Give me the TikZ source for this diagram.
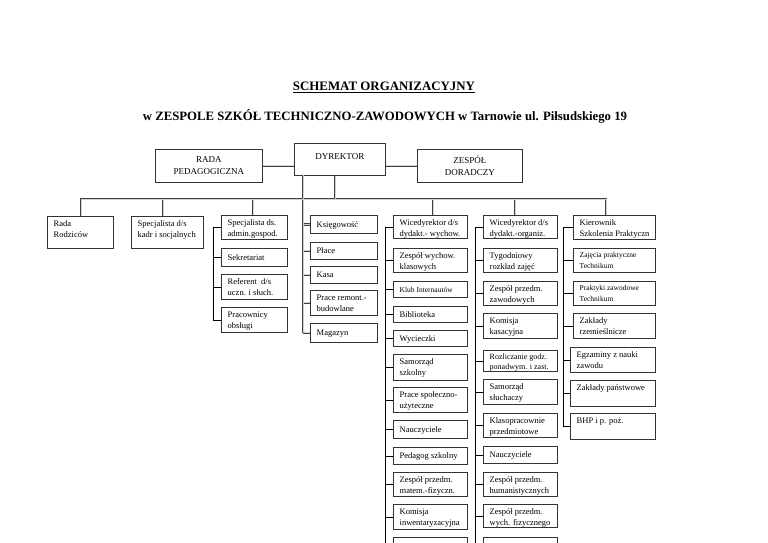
\documentclass[tikz,border=0pt]{standalone}
\usepackage{fontspec}
\setmainfont{Liberation Serif}
\tikzset{
  box/.style={draw=black!80, line width=0.8pt, fill=white, inner sep=0pt, anchor=north west},
  txt/.style={inner sep=0pt, font=\fontsize{8.5}{11}\selectfont},
  smalltxt/.style={font=\fontsize{7.5}{10.5}\selectfont},
  toptxt/.style={inner sep=0pt, align=center, font=\fontsize{9}{12}\selectfont},
  thinline/.style={draw=black, line width=0.6pt},
  outerline/.style={draw=black!75, line width=2.8pt},
  innerline/.style={draw=gray!35, line width=1.0pt},
}
\newcommand\tb[1]{\begin{tabular}[t]{@{}l@{}}#1\end{tabular}}
% #1 text options, #2 name, #3 x1, #4 y1, #5 x2, #6 y2, #7 text
\newcommand\bx[7][]{%
  \node[box, minimum width={(#5-#3)*1pt}, minimum height={(#6-#4)*1pt}] (#2) at (#3,#4) {};
  \node[txt, anchor=north west, #1] (#2t) at ([xshift=6.5pt, yshift=-2.3pt]#2.north west) {\tb{#7}};}
\newcommand\bxc[7][]{%
  \node[box, minimum width={(#5-#3)*1pt}, minimum height={(#6-#4)*1pt}] (#2) at (#3,#4) {};
  \node[txt, anchor=base west, #1] (#2t) at ([xshift=6.5pt, yshift=-3pt]#2.west) {\tb{#7}};}
\newcommand\dblnet[1]{%
  \draw[#1] (radap.east) -- (radap.east -| dyr.west);
  \draw[#1] (zesp.west) -- (zesp.west -| dyr.east);
  \draw[#1] ([xshift=34pt]rada.north west) -- ([xshift=34pt]rada.north west |- bus)
        -- ([xshift=33pt]k1.north west |- bus) -- ([xshift=33pt]k1.north west);
  \draw[#1] ([xshift=32pt]kadr.north west) -- ([xshift=32pt]kadr.north west |- bus);
  \draw[#1] ([xshift=32pt]admin.north west) -- ([xshift=32pt]admin.north west |- bus);
  \draw[#1] ([xshift=40pt]w1.north west) -- ([xshift=40pt]w1.north west |- bus);
  \draw[#1] ([xshift=32pt]o1.north west) -- ([xshift=32pt]o1.north west |- bus);
  \draw[#1] ([xshift=41pt]dyr.south west) -- ([xshift=41pt]dyr.south west |- bus);
  \draw[#1] (dsp) -- (dsp |- mag.west);
  \foreach \n in {ksieg,place,kasa,remont,mag} {\draw[#1] (\n.west) -- (\n.west -| dsp);}
}
\begin{document}
\begin{tikzpicture}[x=1pt,y=-1pt]
\clip (0,0) rectangle (768,543);
\fill[white] (0,0) rectangle (768,543);

\node[font=\bfseries\fontsize{12.9}{15}\selectfont, inner sep=0pt] (title) at (384,87) {\underline{SCHEMAT ORGANIZACYJNY}};
\node[font=\bfseries\fontsize{12.75}{15}\selectfont, inner sep=0pt] (subtitle) at (385,116) {w ZESPOLE SZKÓŁ TECHNICZNO-ZAWODOWYCH w Tarnowie ul. Piłsudskiego 19};

% top boxes
\node[box, toptxt, minimum width=107pt, minimum height=33pt] (radap) at (155,149) {RADA\\PEDAGOGICZNA};
\node[box, minimum width=91pt, minimum height=32pt] (dyr) at (294,143) {};
\node[toptxt, anchor=north] (dyrt) at ([yshift=-10pt]dyr.north) {DYREKTOR};
\node[box, toptxt, minimum width=105pt, minimum height=33pt] (zesp) at (417,149) {ZESPÓŁ\\DORADCZY};

\coordinate (bus) at (0,199);
\coordinate (dsp) at (303,175);

% row / columns
\bx{rada}{47}{216}{113}{248}{Rada\\Rodziców}
\bx{kadr}{131}{216}{203}{248}{Specjalista d/s\\kadr i socjalnych}

\bx{admin}{221}{215}{287}{239}{Specjalista ds.\\admin.gospod.}
\bxc{sekr}{221}{248}{287}{266}{Sekretariat}
\bx{ref}{221}{274}{287}{299}{Referent~~d/s\\uczn. i słuch.}
\bx{prac}{221}{307}{287}{332}{Pracownicy\\obsługi}

\bxc{ksieg}{310}{215}{377}{233}{Księgowość}
\bxc{place}{310}{242}{377}{259}{Płace}
\bxc{kasa}{310}{266}{377}{283}{Kasa}
\bx{remont}{310}{290}{377}{315}{Prace remont.-\\budowlane}
\bxc{mag}{310}{323}{377}{342}{Magazyn}

\bx{w1}{393}{215}{467}{238}{Wicedyrektor d/s\\dydakt.- wychow.}
\bx{w2}{393}{248}{467}{272}{Zespół wychow.\\klasowych}
\bxc[smalltxt]{w3}{393}{281}{467}{297}{Klub Internautów}
\bxc{w4}{393}{306}{467}{322}{Biblioteka}
\bxc{w5}{393}{330}{467}{346}{Wycieczki}
\bx{w6}{393}{354}{467}{380}{Samorząd\\szkolny}
\bx{w7}{393}{387}{467}{412}{Prace społeczno-\\użyteczne}
\bxc{w8}{393}{420}{467}{438}{Nauczyciele}
\bxc{w9}{393}{447}{467}{464}{Pedagog szkolny}
\bx{w10}{393}{472}{467}{496}{Zespół przedm.\\matem.-fizyczn.}
\bx{w11}{393}{504}{467}{529}{Komisja\\inwentaryzacyjna}
\node[box, minimum width=74pt, minimum height=25pt] (w12) at (393,537) {};

\bx{o1}{483}{215}{557}{238}{Wicedyrektor d/s\\dydakt.-organiz.}
\bx{o2}{483}{248}{557}{272}{Tygodniowy\\rozkład zajęć}
\bx{o3}{483}{281}{557}{305}{Zespół przedm.\\zawodowych}
\bx{o4}{483}{313}{557}{338}{Komisja\\kasacyjna}
\bx[font=\fontsize{8}{10}\selectfont]{o5}{483}{350}{557}{371}{Rozliczanie godz.\\ponadwym. i zast.}
\bx{o6}{483}{379}{557}{404}{Samorząd\\słuchaczy}
\bx{o7}{483}{413}{557}{437}{Klasopracownie\\przedmiotowe}
\bxc{o8}{483}{446}{557}{463}{Nauczyciele}
\bx{o9}{483}{472}{557}{496}{Zespół przedm.\\humanistycznych}
\bx{o10}{483}{504}{557}{527}{Zespół przedm.\\wych. fizycznego}
\node[box, minimum width=74pt, minimum height=25pt] (o11) at (483,537) {};

\bx{k1}{573}{215}{655}{239}{Kierownik\\Szkolenia Praktyczn}
\bx[smalltxt]{k2}{573}{248}{655}{272}{Zajęcia praktyczne\\Technikum}
\bx[smalltxt]{k3}{573}{281}{655}{305}{Praktyki zawodowe\\Technikum}
\bx{k4}{573}{313}{655}{338}{Zakłady\\rzemieślnicze}
\bx{k5}{570}{347}{655}{372}{Egzaminy z nauki\\zawodu}
\bx{k6}{570}{380}{655}{406}{Zakłady państwowe}
\bx{k7}{570}{413}{655}{439}{BHP i p. poż.}

% double-line connectors
\dblnet{outerline}
\dblnet{innerline}

% thin spines
\draw[thinline] ([xshift=-8pt]admin.west) -- ([xshift=-8pt]admin.west |- prac.west);
\foreach \n in {admin,sekr,ref,prac} {\draw[thinline] (\n.west) -- ++(-8pt,0);}
\draw[thinline] ([xshift=-8pt]w1.west) -- ([xshift=-8pt]w1.west |- w12.west);
\foreach \n in {w1,w2,w3,w4,w5,w6,w7,w8,w9,w10,w11,w12} {\draw[thinline] (\n.west) -- ++(-8pt,0);}
\draw[thinline] ([xshift=-8pt]o1.west) -- ([xshift=-8pt]o1.west |- o11.west);
\foreach \n in {o1,o2,o3,o4,o5,o6,o7,o8,o9,o10,o11} {\draw[thinline] (\n.west) -- ++(-8pt,0);}
\coordinate (ksp) at ([xshift=-10pt]k1.west);
\draw[thinline] (ksp) -- (ksp |- k7.west);
\foreach \n in {k1,k2,k3,k4,k5,k6,k7} {\draw[thinline] (\n.west) -- (\n.west -| ksp);}
\end{tikzpicture}
\end{document}
